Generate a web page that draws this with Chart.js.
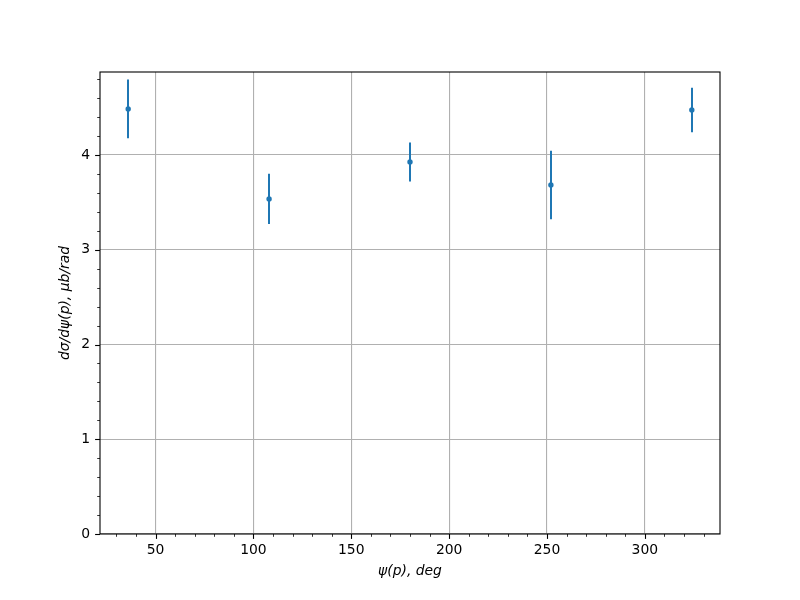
<!DOCTYPE html>
<html>
<head>
<meta charset="utf-8">
<script src="https://cdn.jsdelivr.net/npm/chart.js@4/dist/chart.umd.min.js"></script>
<style>
	html, body { margin: 0; padding: 0; background: #fff; }
	#grafico { display: block; }
</style>
</head>
<body>
<canvas id="grafico" width="800" height="600"></canvas>
<script>
var angulos = [36, 108, 180, 252, 324];
var secaoChoque = [4.486, 3.536, 3.926, 3.683, 4.475];
var erros = [0.31, 0.265, 0.205, 0.362, 0.236];
var ticksX = [50, 100, 150, 200, 250, 300];
var ticksY = [0, 1, 2, 3, 4];
var ticksMenoresX = [30, 40, 60, 70, 80, 90, 110, 120, 130, 140, 160, 170, 180, 190, 210, 220, 230, 240, 260, 270, 280, 290, 310, 320, 330];
var ticksMenoresY = [0.2, 0.4, 0.6, 0.8, 1.2, 1.4, 1.6, 1.8, 2.2, 2.4, 2.6, 2.8, 3.2, 3.4, 3.6, 3.8, 4.2, 4.4, 4.6, 4.8];

var AZUL = '#1f77b4';
var FONTE = "'DejaVu Sans', sans-serif";

var pontos = angulos.map(function(x, i) {
	return { x: x, y: secaoChoque[i] };
});

// barras de erro, desenhadas antes dos pontos
var barrasErro = {
	id: 'barrasErro',
	beforeDatasetsDraw: function(chart) {
		var ctx = chart.ctx;
		var sx = chart.scales.x, sy = chart.scales.y;
		ctx.save();
		ctx.strokeStyle = AZUL;
		ctx.lineWidth = 2;
		angulos.forEach(function(a, i) {
			var px = Math.round(sx.getPixelForValue(a));
			ctx.beginPath();
			ctx.moveTo(px, sy.getPixelForValue(secaoChoque[i] - erros[i]));
			ctx.lineTo(px, sy.getPixelForValue(secaoChoque[i] + erros[i]));
			ctx.stroke();
		});
		ctx.restore();
	}
};

// moldura e marcas dos eixos (maiores e menores)
var moldura = {
	id: 'moldura',
	afterDraw: function(chart) {
		var ctx = chart.ctx;
		var area = chart.chartArea;
		var sx = chart.scales.x, sy = chart.scales.y;
		ctx.save();
		ctx.strokeStyle = '#000';

		function marcaX(v, len, w) {
			var px = Math.round(sx.getPixelForValue(v)) + 0.5;
			ctx.lineWidth = w;
			ctx.beginPath();
			ctx.moveTo(px, area.bottom);
			ctx.lineTo(px, area.bottom + len);
			ctx.stroke();
		}
		function marcaY(v, len, w) {
			var py = Math.round(sy.getPixelForValue(v)) + 0.5;
			ctx.lineWidth = w;
			ctx.beginPath();
			ctx.moveTo(area.left, py);
			ctx.lineTo(area.left - len, py);
			ctx.stroke();
		}
		ticksX.forEach(function(v) { marcaX(v, 4.9, 1.1); });
		ticksMenoresX.forEach(function(v) { marcaX(v, 2.8, 0.8); });
		ticksY.forEach(function(v) { marcaY(v, 4.9, 1.1); });
		ticksMenoresY.forEach(function(v) { marcaY(v, 2.8, 0.8); });

		ctx.lineWidth = 1.1;
		ctx.strokeRect(area.left, area.top, area.right - area.left, area.bottom - area.top);
		ctx.restore();
	}
};

var grafico = new Chart(document.getElementById('grafico').getContext('2d'), {
	type: 'scatter',
	data: {
		datasets: [{
			label: 'dσ/dψ',
			data: pontos,
			backgroundColor: AZUL,
			borderColor: AZUL,
			pointRadius: 2.7,
			pointHoverRadius: 2.7,
			borderWidth: 0
		}]
	},
	options: {
		responsive: false,
		animation: false,
		layout: { padding: { left: 0, right: 80, top: 72, bottom: 0 } },
		plugins: {
			legend: { display: false },
			tooltip: { enabled: false }
		},
		scales: {
			x: {
				type: 'linear',
				min: 21.6,
				max: 338.4,
				afterFit: function(scale) { scale.height = 66; },
				afterBuildTicks: function(scale) {
					scale.ticks = ticksX.map(function(v) { return { value: v }; });
				},
				ticks: {
					color: '#000',
					padding: 8,
					maxRotation: 0,
					font: { family: FONTE, size: 13.9 },
					callback: function(v) { return v; }
				},
				grid: { color: '#b0b0b0', lineWidth: 1.1, drawTicks: false },
				border: { display: false },
				title: {
					display: true,
					text: 'ψ(p), deg',
					color: '#000',
					font: { family: FONTE, size: 13.9, style: 'italic' },
					padding: { top: 0, bottom: 20 }
				}
			},
			y: {
				min: 0,
				max: 4.876,
				afterFit: function(scale) { scale.width = 100; },
				afterBuildTicks: function(scale) {
					scale.ticks = ticksY.map(function(v) { return { value: v }; });
				},
				ticks: {
					color: '#000',
					padding: 10,
					font: { family: FONTE, size: 13.9 },
					callback: function(v) { return v; }
				},
				grid: { color: '#b0b0b0', lineWidth: 1.1, drawTicks: false },
				border: { display: false },
				title: {
					display: true,
					text: 'dσ/dψ(p), μb/rad',
					color: '#000',
					font: { family: FONTE, size: 13.9, style: 'italic' },
					padding: { top: 57.5, bottom: 0 }
				}
			}
		}
	},
	plugins: [barrasErro, moldura]
});
</script>
</body>
</html>
